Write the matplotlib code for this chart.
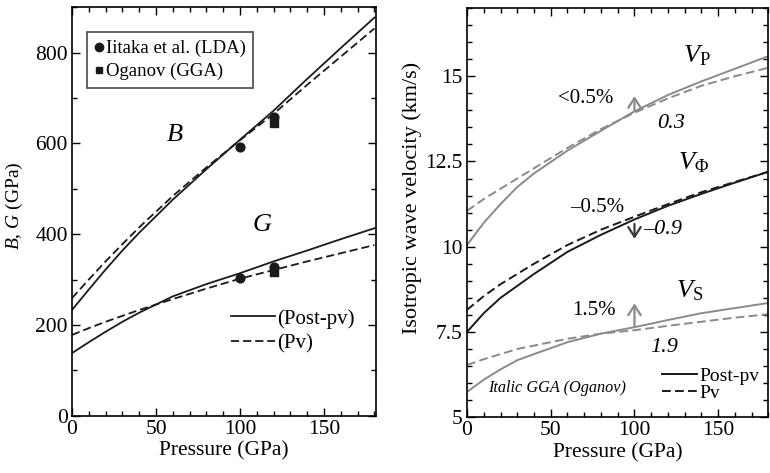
import matplotlib
matplotlib.use("Agg")
import matplotlib.pyplot as plt
from matplotlib.ticker import MultipleLocator, FuncFormatter
from matplotlib.lines import Line2D

plt.rcParams['font.family'] = ['Liberation Serif', 'DejaVu Serif']
plt.rcParams['mathtext.fontset'] = 'custom'
plt.rcParams['mathtext.rm'] = 'Liberation Serif'
plt.rcParams['mathtext.it'] = 'Liberation Serif:italic'
plt.rcParams['mathtext.bf'] = 'Liberation Serif:bold'

# ---------------- data ----------------
pressure = [0, 10, 20, 30, 40, 60, 80, 100, 120, 140, 160, 180]

B_postpv = [233, 278, 322, 364, 403, 476, 543, 608, 672, 742, 810, 877]
B_pv = [259, 300, 340, 378, 415, 484, 547, 607, 665, 729, 791, 853]
G_postpv = [138, 162, 185, 207, 227, 263, 290, 314, 340, 364, 389, 413]
G_pv = [178, 193, 207, 220, 233, 257, 280, 302, 321, 340, 358, 376]

iitaka_P = [100, 120, 100, 120]
iitaka_val = [591, 659, 303, 327]
oganov_P = [120, 120]
oganov_val = [644, 316]

pressure_v = [0, 10, 20, 30, 40, 60, 80, 100, 120, 140, 160, 180]
VP_postpv = [10.05, 10.7, 11.25, 11.75, 12.15, 12.82, 13.4, 13.97, 14.45, 14.85, 15.22, 15.59]
VP_pv = [11.05, 11.4, 11.7, 12.0, 12.3, 12.9, 13.45, 13.93, 14.35, 14.72, 15.0, 15.25]
VPhi_postpv = [7.5, 8.05, 8.5, 8.85, 9.2, 9.85, 10.35, 10.8, 11.2, 11.55, 11.88, 12.2]
VPhi_pv = [8.15, 8.55, 8.9, 9.2, 9.5, 10.05, 10.5, 10.88, 11.25, 11.6, 11.9, 12.2]
VS_postpv = [5.74, 6.1, 6.4, 6.67, 6.85, 7.2, 7.45, 7.64, 7.85, 8.05, 8.2, 8.35]
VS_pv = [6.53, 6.7, 6.85, 7.0, 7.1, 7.3, 7.45, 7.55, 7.68, 7.8, 7.92, 8.02]

arrows = [  # (P, from, to, colour)
    (100, 13.9, 14.5, '#8a8a8a'),
    (100, 10.75, 10.15, '#3a3a3a'),
    (100, 7.57, 8.42, '#8a8a8a'),
]

GRAY = '#8a8a8a'
BLACK = '#1a1a1a'
DASH = (0, (4.5, 2.2))
TICK_FS = 15.5

fig = plt.figure(figsize=(7.7, 4.73), dpi=100)
axL = fig.add_axes([0.0935, 0.121, 0.395, 0.864])
axR = fig.add_axes([0.6065, 0.118, 0.3915, 0.865])

def style(ax):
    ax.tick_params(which='both', direction='in', top=True, right=True,
                   labelsize=TICK_FS, pad=3)
    ax.tick_params(which='major', length=6, width=1)
    ax.tick_params(which='minor', length=3.5, width=1)
    for s in ax.spines.values():
        s.set_linewidth(1.2)

# ---------------- left panel ----------------
axL.plot(pressure, B_postpv, color=BLACK, lw=1.3)
axL.plot(pressure, B_pv, color=BLACK, lw=1.3, ls=DASH)
axL.plot(pressure, G_postpv, color=BLACK, lw=1.3)
axL.plot(pressure, G_pv, color=BLACK, lw=1.3, ls=DASH)
axL.scatter(iitaka_P, iitaka_val, s=40, marker='o', color=BLACK, zorder=5)
axL.scatter(oganov_P, oganov_val, s=30, marker='s', color=BLACK, zorder=5)

axL.set_xlim(0, 181)
axL.set_ylim(0, 900)
axL.xaxis.set_major_locator(MultipleLocator(50))
axL.xaxis.set_minor_locator(MultipleLocator(10))
axL.yaxis.set_major_locator(MultipleLocator(200))
axL.yaxis.set_minor_locator(MultipleLocator(100))
style(axL)
axL.set_xlabel('Pressure (GPa)', fontsize=15.5, labelpad=2)
axL.set_ylabel('$B$, $G$ (GPa)', fontsize=14)
axL.yaxis.set_label_coords(-0.155, 0.515)

axL.text(61, 619, '$B$', fontsize=19, ha='center', va='center')
axL.text(113, 420, '$G$', fontsize=19, ha='center', va='center')

h1 = [Line2D([], [], ls='none', marker='o', color=BLACK, ms=6),
      Line2D([], [], ls='none', marker='s', color=BLACK, ms=5)]
legA = axL.legend(h1, ['Iitaka et al. (LDA)', 'Oganov (GGA)'], loc='upper left',
                  bbox_to_anchor=(0.05, 0.938), fontsize=13.5, frameon=True, fancybox=False,
                  handlelength=0.45, handletextpad=0.15, borderpad=0.4, labelspacing=0.3,
                  borderaxespad=0)
legA.get_frame().set_edgecolor(BLACK)
legA.get_frame().set_linewidth(1.2)
axL.add_artist(legA)
h2 = [Line2D([], [], color=BLACK, lw=1.3),
      Line2D([], [], color=BLACK, lw=1.3, ls=DASH)]
axL.legend(h2, ['(Post-pv)', '(Pv)'], loc='center left', bbox_to_anchor=(0.46, 0.207),
           fontsize=15, frameon=False, handlelength=2.15, handletextpad=0.1,
           labelspacing=0.25)

# ---------------- right panel ----------------
axR.plot(pressure_v, VP_postpv, color=GRAY, lw=1.4)
axR.plot(pressure_v, VP_pv, color=GRAY, lw=1.4, ls=DASH)
axR.plot(pressure_v, VPhi_postpv, color=BLACK, lw=1.4)
axR.plot(pressure_v, VPhi_pv, color=BLACK, lw=1.4, ls=DASH)
axR.plot(pressure_v, VS_postpv, color=GRAY, lw=1.4)
axR.plot(pressure_v, VS_pv, color=GRAY, lw=1.4, ls=DASH)

for p, a, b, c in arrows:
    axR.annotate('', xy=(p, b), xytext=(p, a),
                 arrowprops=dict(arrowstyle='->,head_length=0.7,head_width=0.45',
                                 color=c, lw=1.6))

axR.set_xlim(0, 180)
axR.set_ylim(5, 17)
axR.xaxis.set_major_locator(MultipleLocator(50))
axR.xaxis.set_minor_locator(MultipleLocator(10))
axR.yaxis.set_major_locator(MultipleLocator(2.5))
axR.yaxis.set_minor_locator(MultipleLocator(0.5))
axR.yaxis.set_major_formatter(FuncFormatter(lambda v, _: f'{v:g}'))
style(axR)
axR.set_xlabel('Pressure (GPa)', fontsize=15.5, labelpad=2)
axR.set_ylabel('Isotropic wave velocity (km/s)', fontsize=16)
axR.yaxis.set_label_coords(-0.15, 0.535)

axR.text(137, 15.6, r'$V_{\mathrm{P}}$', fontsize=19, ha='center', va='center')
axR.text(135, 12.45, r'$V_{\Phi}$', fontsize=19, ha='center', va='center')
axR.text(133, 8.72, r'$V_{\mathrm{S}}$', fontsize=19, ha='center', va='center')
axR.text(71, 14.35, '<0.5%', fontsize=15, ha='center', va='center')
axR.text(78, 11.16, '\u20130.5%', fontsize=15, ha='center', va='center')
axR.text(76, 8.14, '1.5%', fontsize=15, ha='center', va='center')
axR.text(122, 13.6, '0.3', fontsize=16, style='italic', ha='center', va='center')
axR.text(117, 10.5, '\u20130.9', fontsize=16, style='italic', ha='center', va='center')
axR.text(118, 7.05, '1.9', fontsize=16, style='italic', ha='center', va='center')
axR.text(54, 5.85, 'Italic GGA (Oganov)', fontsize=11.7, style='italic', ha='center', va='center')

h3 = [Line2D([], [], color=BLACK, lw=1.4),
      Line2D([], [], color=BLACK, lw=1.4, ls=DASH)]
axR.legend(h3, ['Post-pv', 'Pv'], loc='center left', bbox_to_anchor=(0.59, 0.08),
           fontsize=14, frameon=False, handlelength=1.8, handletextpad=0.1,
           labelspacing=-0.05)

fig.savefig('out.png', dpi=100)
